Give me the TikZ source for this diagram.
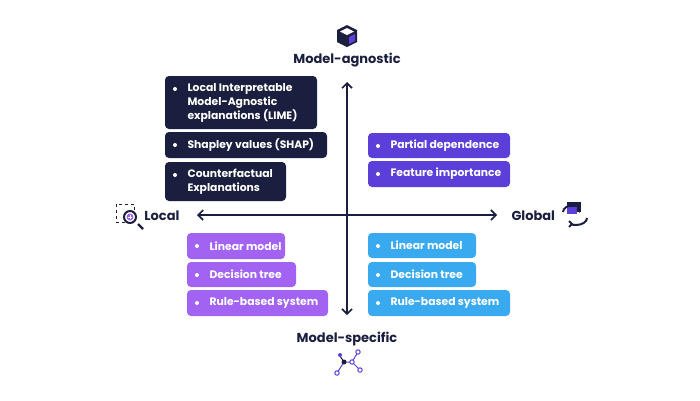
\documentclass[tikz,border=0pt]{standalone}
\usepackage{fontspec}
\setmainfont{Poppins}
\usetikzlibrary{arrows.meta}
\definecolor{navy}{HTML}{1B1F3F}
\definecolor{violet}{HTML}{5B3FD8}
\definecolor{lilac}{HTML}{A262F2}
\definecolor{sky}{HTML}{3AAAF0}
\begin{document}
\begin{tikzpicture}[x=1pt,y=-1pt,
  box/.style={rounded corners=4pt,inner sep=0pt},
  txt/.style={anchor=west,text=white,font=\fontsize{10.8}{14}\selectfont\bfseries,align=left},
  dot/.style={circle,fill=white,inner sep=0pt,minimum size=4pt},
  ax/.style={line width=1.6pt,navy,-{Straight Barb[length=5pt,width=10pt]}},
  lab/.style={font=\fontsize{13}{15}\selectfont\bfseries,text=navy}]
\useasboundingbox (0,0) rectangle (700,400);
\newcommand{\mybox}[7]{%
  \fill[#6,box] (#2,#3) rectangle (#4,#5);
  \node[dot] at (#2+10,#3+13) {};
  \node[txt] (#1) at (#2+19,{(#3+#5)/2}) {#7};}
\mybox{lime}{165}{76}{317}{129}{navy}{Local Interpretable\\Model-Agnostic\\explanations (LIME)}
\mybox{shap}{165}{132}{327}{158}{navy}{Shapley values (SHAP)}
\mybox{cf}{165}{162}{286}{201}{navy}{Counterfactual\\Explanations}
\mybox{pd}{368}{133}{510}{158}{violet}{Partial dependence}
\mybox{fi}{368}{161}{510}{187}{violet}{Feature importance}
\mybox{lm1}{187}{233}{285}{259}{lilac}{Linear model}
\mybox{dt1}{187}{262}{296}{287}{lilac}{Decision tree}
\mybox{rb1}{187}{290}{328}{316}{lilac}{Rule-based system}
\mybox{lm2}{368}{233}{476}{258}{sky}{Linear model}
\mybox{dt2}{368}{262}{476}{287}{sky}{Decision tree}
\mybox{rb2}{368}{290}{510}{316}{sky}{Rule-based system}
\coordinate (c) at (347,215);
\coordinate (top) at (347,82);
\coordinate (bot) at (347,315);
\coordinate (lt) at (197,215);
\coordinate (rt) at (497,215);
\draw[ax] (c) -- (top);
\draw[ax] (c) -- (bot);
\draw[ax] (c) -- (lt);
\draw[ax] (c) -- (rt);
\node[lab] (ma) at (347,60) {Model-agnostic};
\node[lab] (ms) at (347,339) {Model-specific};
\node[lab,anchor=east] (loc) at (183,216) {Local};
\node[lab,anchor=west] (glo) at (508,216) {Global};
% cube icon
\fill[navy] (347,25) -- (357,30) -- (357,42) -- (347,47) -- (337,42) -- (337,30) -- cycle;
\fill[white] (347,28) -- (354,31.5) -- (347,35) -- (340,31.5) -- cycle;
\fill[violet] (349,37) -- (355,34) -- (355,41) -- (349,44) -- cycle;
% magnifier
\draw[navy,dashed,line width=0.6pt] (116,204) rectangle (134,222);
\draw[navy,line width=2.2pt] (138,224) -- (143,229);
\draw[navy,line width=2pt,fill=white] (130,217) circle (6);
\fill[lilac] (130,217) circle (3.5);
\draw[white,line width=0.8pt] (128,217) -- (132,217) (130,215) -- (130,219);
% global icon
\fill[navy] (567,202) rectangle (581,212);
\fill[violet] (567,207) rectangle (577,214);
\draw[navy,line width=2pt] (563,212) arc (180:300:11 and 7);
\draw[navy,line width=2pt] (587,218) arc (0:120:11 and 7);
\draw[navy,line width=1.8pt] (569,221) -- (572,224) -- (569,227);
\draw[navy,line width=1.8pt] (580,212) -- (577,209);
% network icon
\draw[violet,line width=1pt] (337,373) -- (344,362) -- (352,362) -- (358,352) (352,362) -- (360,370);
\draw[navy,line width=1pt] (344,362) -- (340,356);
\foreach \p in {(337,373),(352,362),(358,352),(360,370)} \draw[violet,line width=1pt,fill=white] \p circle (2.2);
\fill[navy] (344,362) circle (2.5);
\fill[violet] (340,355) circle (2);
\end{tikzpicture}
\end{document}
